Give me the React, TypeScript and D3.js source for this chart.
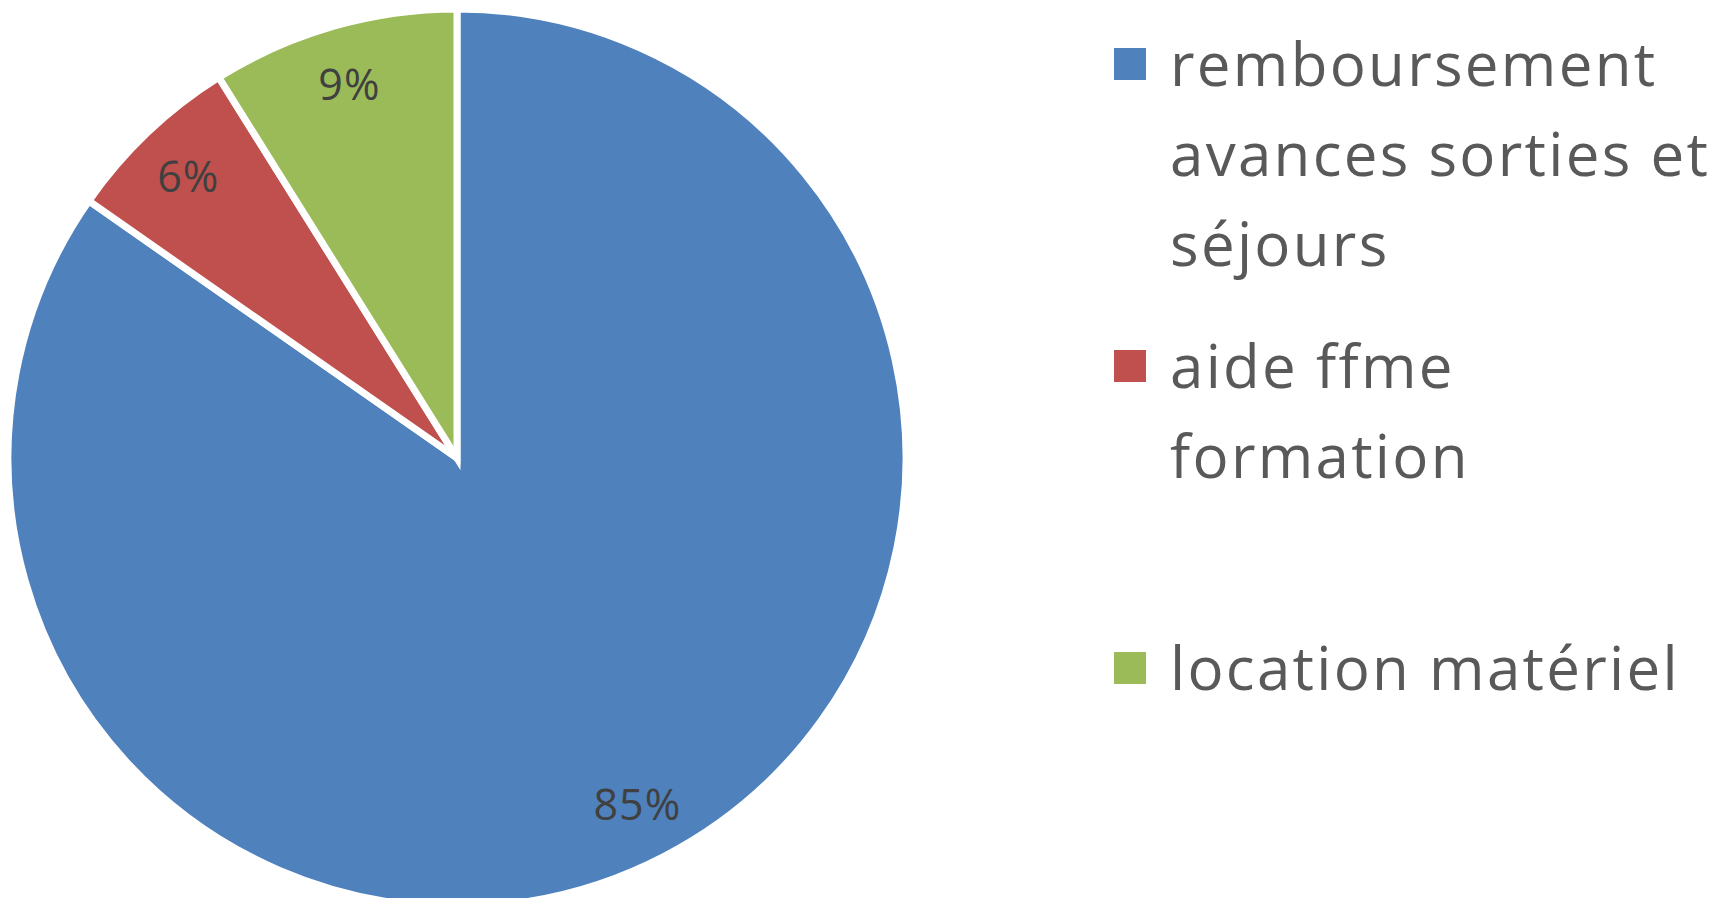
import React from "react";
import * as d3 from "d3";

const categories = ["remboursement avances sorties et séjours", "aide ffme formation", "location matériel"];
const values = [84.7, 6.4, 8.9];
const labels = ["85%", "6%", "9%"];
const legendLines = [
  ["remboursement", "avances sorties et", "séjours"],
  ["aide ffme", "formation"],
  ["location matériel"],
];
const colors = ["#4F81BD", "#C0504D", "#9BBB59"];

const W = 1726;
const H = 898;

export default function App() {
  const cx = 457;
  const cy = 458;
  const R = 449;
  const pie = d3.pie<number>().sort(null).startAngle(0).endAngle(2 * Math.PI);
  const arcs = pie(values);
  const arc = d3.arc<d3.PieArcDatum<number>>().innerRadius(0).outerRadius(R);
  const labelArc = d3.arc<d3.PieArcDatum<number>>().innerRadius(390).outerRadius(390);

  const legendY = d3.scaleLinear().domain([0, 1]).range([48, 350]);

  return (
    <svg width={W} height={H} style={{ position: "absolute", left: 0, top: 0, background: "#fff" }}>
      <g transform={`translate(${cx},${cy})`}>
        {arcs.map((a, i) => (
          <path key={categories[i]} d={arc(a) || ""} fill={colors[i]} stroke="#fff" strokeWidth={7} strokeLinejoin="miter" />
        ))}
        {arcs.map((a, i) => {
          const [x, y] = labelArc.centroid(a);
          return (
            <text
              key={"l" + i}
              x={x}
              y={y}
              textAnchor="middle"
              dominantBaseline="central"
              fontFamily="'Open Sans', sans-serif"
              fontSize={43}
              letterSpacing={1}
              fill="#404040"
            >
              {labels[i]}
            </text>
          );
        })}
      </g>
      <g>
        {legendLines.map((lines, i) => {
          const top = legendY(i);
          return (
            <g key={"lg" + i}>
              <rect x={1114} y={top} width={32} height={32} fill={colors[i]} />
              {lines.map((ln, j) => (
                <text
                  key={j}
                  x={1170}
                  y={top + 38 + j * 90}
                  fontFamily="'Open Sans', sans-serif"
                  fontSize={60}
                  letterSpacing={2.3}
                  fill="#595959"
                >
                  {ln}
                </text>
              ))}
            </g>
          );
        })}
      </g>
    </svg>
  );
}
